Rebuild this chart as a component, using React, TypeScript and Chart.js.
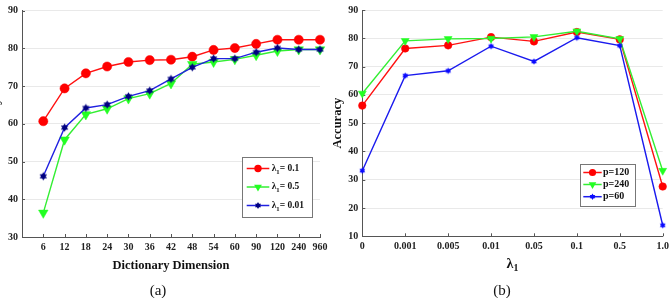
import React, { useEffect, useRef } from 'react';
import { Chart, registerables } from 'chart.js';

Chart.register(...registerables);

// ---------- data ----------
const dims = ['6', '12', '18', '24', '30', '36', '42', '48', '54', '60', '90', '120', '240', '960'];
const accLambda01 = [60.7, 69.4, 73.4, 75.2, 76.4, 76.9, 77.0, 77.8, 79.6, 80.1, 81.2, 82.3, 82.3, 82.3];
const accLambda05 = [36.4, 55.8, 62.5, 64.0, 66.7, 68.0, 70.7, 75.8, 76.4, 77.1, 78.2, 79.3, 79.7, 79.7];
const accLambda001 = [46.1, 59.0, 64.2, 65.1, 67.3, 68.8, 71.9, 75.0, 77.3, 77.3, 79.0, 80.1, 79.7, 79.7];
const seriesLabelsA = ['λ₁= 0.1', 'λ₁= 0.5', 'λ₁= 0.01'];

const lambdaTicks = ['0', '0.001', '0.005', '0.01', '0.05', '0.1', '0.5', '1.0'];
const accP120 = [56.2, 76.4, 77.5, 80.4, 78.9, 82.2, 79.6, 27.6];
const accP240 = [60.5, 79.1, 79.8, 79.9, 80.5, 82.5, 79.8, 33.2];
const accP60 = [33.2, 66.8, 68.5, 77.2, 71.8, 80.2, 77.4, 13.9];
const seriesLabelsB = ['p=120', 'p=240', 'p=60'];

const yTitle = 'Accuracy';
const xTitleA = 'Dictionary Dimension';
const xTitleB = 'λ₁';
const captionA = '(a)';
const captionB = '(b)';

const SERIF = '"Liberation Serif", "Times New Roman", serif';

// ---------- helpers ----------
function hexagram(r: number, color: string) {
  const s = Math.ceil(2 * r + 2);
  const c = document.createElement('canvas');
  c.width = s;
  c.height = s;
  const ctx = c.getContext('2d')!;
  drawHex(ctx, s / 2, s / 2, r, color);
  return c;
}

function drawHex(ctx: CanvasRenderingContext2D, cx: number, cy: number, r: number, color: string) {
  ctx.fillStyle = color;
  for (const off of [0, Math.PI]) {
    ctx.beginPath();
    for (let k = 0; k < 3; k++) {
      const a = off + (k * 2 * Math.PI) / 3 - Math.PI / 2;
      const x = cx + r * Math.cos(a);
      const y = cy + r * Math.sin(a);
      if (k === 0) ctx.moveTo(x, y);
      else ctx.lineTo(x, y);
    }
    ctx.closePath();
    ctx.fill();
  }
}

function tokenize(text: string) {
  const out: { t: string; sub: boolean }[] = [];
  let buf = '';
  for (const ch of text) {
    if (ch === '₁') {
      if (buf) out.push({ t: buf, sub: false });
      buf = '';
      out.push({ t: '1', sub: true });
    } else buf += ch;
  }
  if (buf) out.push({ t: buf, sub: false });
  return out;
}

function drawRich(ctx: CanvasRenderingContext2D, text: string, x: number, y: number, size: number, align: string, color: string) {
  const parts = tokenize(text);
  const fontFor = (sub: boolean) => `bold ${sub ? size * 0.7 : size}px ${SERIF}`;
  let total = 0;
  for (const p of parts) {
    ctx.font = fontFor(p.sub);
    total += ctx.measureText(p.t).width;
  }
  let cx = align === 'center' ? x - total / 2 : x;
  ctx.textBaseline = 'middle';
  ctx.textAlign = 'left';
  ctx.fillStyle = color;
  for (const p of parts) {
    ctx.font = fontFor(p.sub);
    ctx.fillText(p.t, cx, p.sub ? y + size * 0.35 : y);
    cx += ctx.measureText(p.t).width;
  }
}

function drawMarker(ctx: CanvasRenderingContext2D, ds: any, x: number, y: number, r: number) {
  const style = ds.pointStyle;
  const color = ds.pointBackgroundColor;
  ctx.save();
  if (typeof style !== 'string') {
    drawHex(ctx, x, y, r, color);
  } else if (style === 'circle') {
    ctx.fillStyle = color;
    ctx.beginPath();
    ctx.arc(x, y, r, 0, Math.PI * 2);
    ctx.fill();
  } else if (style === 'triangle') {
    ctx.fillStyle = color;
    ctx.beginPath();
    let a = ((ds.pointRotation || 0) * Math.PI) / 180;
    for (let k = 0; k < 3; k++) {
      const px = x + Math.sin(a) * r;
      const py = y - Math.cos(a) * r;
      if (k === 0) ctx.moveTo(px, py);
      else ctx.lineTo(px, py);
      a += (2 * Math.PI) / 3;
    }
    ctx.closePath();
    ctx.fill();
  }
  ctx.restore();
}

// ---------- plugins ----------
const innerTicksPlugin = {
  id: 'innerTicks',
  beforeDatasetsDraw(chart: any) {
    const { ctx, chartArea } = chart;
    const xs = chart.scales.x;
    const ys = chart.scales.y;
    ctx.save();
    ctx.strokeStyle = '#555';
    ctx.lineWidth = 1;
    ctx.beginPath();
    xs.ticks.forEach((_: any, i: number) => {
      const px = Math.round(xs.getPixelForTick(i)) + 0.5;
      ctx.moveTo(px, chartArea.bottom);
      ctx.lineTo(px, chartArea.bottom - 3);
    });
    ys.ticks.forEach((_: any, i: number) => {
      const py = Math.round(ys.getPixelForTick(i)) + 0.5;
      ctx.moveTo(chartArea.left, py);
      ctx.lineTo(chartArea.left + 3, py);
    });
    ctx.stroke();
    ctx.restore();
  },
};

const boxLegendPlugin = {
  id: 'boxLegend',
  afterDraw(chart: any, _args: any, opts: any) {
    if (!opts || !opts.box) return;
    const ctx = chart.ctx as CanvasRenderingContext2D;
    const [bx, by, bw, bh] = opts.box;
    ctx.save();
    ctx.fillStyle = '#fff';
    ctx.fillRect(bx, by, bw, bh);
    ctx.strokeStyle = '#777';
    ctx.lineWidth = 1;
    ctx.strokeRect(Math.round(bx) + 0.5, Math.round(by) + 0.5, Math.round(bw), Math.round(bh));
    chart.data.datasets.forEach((ds: any, i: number) => {
      const ry = opts.rows[i];
      ctx.strokeStyle = ds.borderColor;
      ctx.lineWidth = 1.5;
      ctx.beginPath();
      ctx.moveTo(opts.line[0], ry);
      ctx.lineTo(opts.line[1], ry);
      ctx.stroke();
      drawMarker(ctx, ds, (opts.line[0] + opts.line[1]) / 2, ry, opts.radii[i]);
      drawRich(ctx, ds.label, opts.textX, ry, opts.fontSize, 'left', '#111');
    });
    if (opts.xTitle) {
      const ca = chart.chartArea;
      drawRich(ctx, opts.xTitle, (ca.left + ca.right) / 2, opts.xTitleY, opts.xTitleSize, 'center', '#111');
    }
    ctx.restore();
  },
};

const tickFont = { family: SERIF, size: 10, weight: 'bold' as const };
const yTitleFont = { family: SERIF, size: 12.5, weight: 'bold' as const };

// ---------- configs ----------
function configA() {
  const hexA = hexagram(4.2, '#000080');
  const pts = (arr: number[]) => arr.map((v, i) => ({ x: i, y: v }));
  return {
    type: 'line',
    data: {
      datasets: [
        {
          label: seriesLabelsA[0], data: pts(accLambda01), borderColor: '#ff1010', backgroundColor: '#ff0000',
          pointStyle: 'circle', pointRadius: 4.6, pointBackgroundColor: '#ff0000', pointBorderColor: '#ff0000',
          pointBorderWidth: 0.5, borderWidth: 1.4, order: 3, clip: false,
        },
        {
          label: seriesLabelsA[1], data: pts(accLambda05), borderColor: '#33ee33', backgroundColor: '#22ff22',
          pointStyle: 'triangle', pointRotation: 180, pointRadius: 5.5, pointBackgroundColor: '#22ff22',
          pointBorderColor: '#22ff22', pointBorderWidth: 0.5, borderWidth: 1.4, order: 2, clip: false,
        },
        {
          label: seriesLabelsA[2], data: pts(accLambda001), borderColor: '#2020e0', backgroundColor: '#000080',
          pointStyle: hexA, pointRadius: 4.2, pointBackgroundColor: '#000080', pointBorderColor: '#000080',
          borderWidth: 1.4, order: 1, clip: false,
        },
      ],
    },
    options: {
      responsive: false,
      animation: false,
      devicePixelRatio: 1,
      layout: { padding: { left: 0, top: 10.7, right: 10, bottom: 0 } },
      elements: { line: { tension: 0 } },
      plugins: {
        legend: { display: false },
        tooltip: { enabled: false },
        boxLegend: {
          box: [256.3, 157.3, 69.7, 60.4],
          rows: [168.5, 187, 205.5],
          line: [260.7, 283.3],
          radii: [3.7, 4.5, 3.5],
          textX: 285.7,
          fontSize: 9.5,
        },
      },
      scales: {
        x: {
          type: 'linear', min: -1, max: 13,
          afterBuildTicks: (s: any) => { s.ticks = dims.map((_, i) => ({ value: i })); },
          afterFit: (s: any) => { s.height = 61; s.paddingLeft = 0; s.paddingRight = 0; },
          ticks: { callback: (v: any) => dims[v] ?? '', font: tickFont, color: '#222', padding: 4, maxRotation: 0, autoSkip: false },
          grid: { display: false, drawTicks: false },
          border: { display: true, color: '#555', width: 1 },
          title: { display: true, text: xTitleA, font: { family: SERIF, size: 12.5, weight: 'bold' }, color: '#111', padding: { top: 0, bottom: 24.5 } },
        },
        y: {
          min: 30, max: 90,
          afterFit: (s: any) => { s.width = 36; s.paddingTop = 0; s.paddingBottom = 0; },
          ticks: { stepSize: 10, font: tickFont, color: '#222', padding: 4 },
          grid: { color: '#e9e9e9', drawTicks: false },
          border: { display: true, color: '#555', width: 1 },
          title: { display: true, text: yTitle, font: yTitleFont, color: '#111', padding: { top: 2.5, bottom: 0 } },
        },
      },
    },
    plugins: [innerTicksPlugin, boxLegendPlugin],
  };
}

function configB() {
  const hexB = hexagram(3.3, '#0a0aff');
  return {
    type: 'line',
    data: {
      labels: lambdaTicks,
      datasets: [
        {
          label: seriesLabelsB[0], data: accP120, borderColor: '#ff1010', backgroundColor: '#ff0000',
          pointStyle: 'circle', pointRadius: 3.8, pointBackgroundColor: '#ff0000', pointBorderColor: '#ff0000',
          pointBorderWidth: 0.5, borderWidth: 1.4, order: 3, clip: false,
        },
        {
          label: seriesLabelsB[1], data: accP240, borderColor: '#33ee33', backgroundColor: '#22ff22',
          pointStyle: 'triangle', pointRotation: 180, pointRadius: 4.6, pointBackgroundColor: '#22ff22',
          pointBorderColor: '#22ff22', pointBorderWidth: 0.5, borderWidth: 1.4, order: 2, clip: false,
        },
        {
          label: seriesLabelsB[2], data: accP60, borderColor: '#1a1aee', backgroundColor: '#0a0aff',
          pointStyle: hexB, pointRadius: 3.3, pointBackgroundColor: '#0a0aff', pointBorderColor: '#0a0aff',
          borderWidth: 1.4, order: 1, clip: false,
        },
      ],
    },
    options: {
      responsive: false,
      animation: false,
      devicePixelRatio: 1,
      layout: { padding: { left: 0, top: 10, right: 17.3, bottom: 0 } },
      elements: { line: { tension: 0 } },
      plugins: {
        legend: { display: false },
        tooltip: { enabled: false },
        boxLegend: {
          box: [254, 164.3, 55, 41.7],
          rows: [172.5, 184.5, 196.7],
          line: [257.3, 275.7],
          radii: [3.6, 4.4, 3.2],
          textX: 277,
          fontSize: 10,
          xTitle: xTitleB,
          xTitleY: 264,
          xTitleSize: 14,
        },
      },
      scales: {
        x: {
          type: 'category', offset: false,
          afterFit: (s: any) => { s.height = 61.7; s.paddingLeft = 0; s.paddingRight = 0; },
          ticks: { font: tickFont, color: '#222', padding: 4, maxRotation: 0, autoSkip: false },
          grid: { display: false, drawTicks: false, offset: false },
          border: { display: true, color: '#555', width: 1 },
          title: { display: false },
        },
        y: {
          min: 10, max: 90,
          afterFit: (s: any) => { s.width = 36.3; s.paddingTop = 0; s.paddingBottom = 0; },
          ticks: { stepSize: 10, font: tickFont, color: '#222', padding: 4 },
          grid: { color: '#e9e9e9', drawTicks: false },
          border: { display: true, color: '#555', width: 1 },
          title: { display: true, text: yTitle, font: yTitleFont, color: '#111', padding: { top: 4.5, bottom: 0 } },
        },
      },
    },
    plugins: [innerTicksPlugin, boxLegendPlugin],
  };
}

function ChartCanvas({ make, left, width, height }: { make: () => any; left: number; width: number; height: number }) {
  const ref = useRef<HTMLCanvasElement | null>(null);
  useEffect(() => {
    const chart = new Chart(ref.current as HTMLCanvasElement, make());
    return () => chart.destroy();
  }, []);
  return (
    <canvas
      ref={ref}
      width={width}
      height={height}
      style={{ position: 'absolute', left, top: 0, width, height, display: 'block' }}
    />
  );
}

export default function App() {
  const cap: React.CSSProperties = {
    position: 'absolute', width: 60, top: 281, textAlign: 'center',
    font: `15px ${SERIF}`, lineHeight: '18px', color: '#111',
  };
  return (
    <div style={{ position: 'fixed', left: 0, top: 0, width: 669, height: 298, overflow: 'hidden', background: '#fff' }}>
      <ChartCanvas make={configA} left={-14} width={344} height={298} />
      <ChartCanvas make={configB} left={326} width={354} height={298} />
      <div style={{ ...cap, left: 128 }}>{captionA}</div>
      <div style={{ ...cap, left: 472 }}>{captionB}</div>
    </div>
  );
}
